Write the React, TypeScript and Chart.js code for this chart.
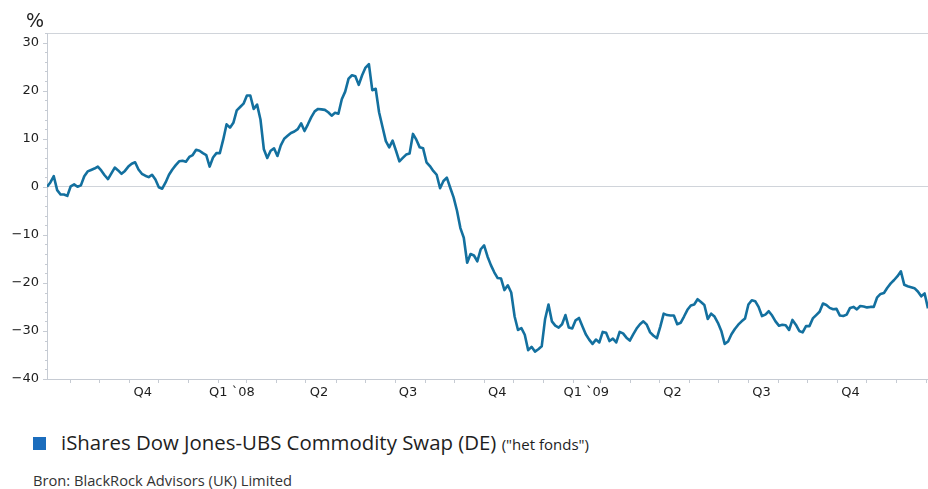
import React, { useEffect, useRef } from 'react';
import { Chart, registerables } from 'chart.js';

Chart.register(...registerables);

// ---- data (half-weekly observations, % change since start) ----
const seriesStart = '2007-08-08';
const stepDays = 3.5;
const fundValues = [
  0.0, 0.9, 2.2, -0.7, -1.6, -1.6, -1.9, 0.1, 0.5, 0.0,
  0.3, 2.2, 3.2, 3.5, 3.8, 4.2, 3.4, 2.4, 1.6, 2.8,
  4.0, 3.4, 2.7, 3.3, 4.2, 4.8, 5.1, 3.6, 2.7, 2.3,
  2.0, 2.5, 1.5, -0.1, -0.4, 0.9, 2.5, 3.6, 4.5, 5.3,
  5.4, 5.2, 6.2, 6.6, 7.7, 7.5, 7.0, 6.6, 4.2, 6.1,
  7.0, 7.0, 9.8, 13.0, 12.3, 13.3, 15.9, 16.6, 17.3, 19.0,
  19.0, 16.2, 17.1, 14.0, 7.8, 6.0, 7.5, 8.0, 6.4, 8.6,
  10.0, 10.6, 11.2, 11.5, 12.0, 13.2, 11.6, 13.0, 14.5, 15.7,
  16.2, 16.1, 16.0, 15.5, 14.8, 15.4, 15.2, 18.2, 19.8, 22.5,
  23.2, 23.0, 21.2, 23.2, 24.8, 25.5, 20.1, 20.4, 15.5, 12.5,
  9.5, 8.2, 9.6, 7.5, 5.3, 6.0, 6.7, 6.9, 11.0, 9.8,
  8.2, 8.0, 5.1, 4.3, 3.3, 2.5, -0.3, 1.2, 1.9, -0.2,
  -2.2, -5.0, -8.6, -10.6, -15.8, -14.0, -14.3, -15.5, -13.0, -12.2,
  -14.5, -16.3, -17.8, -19.0, -19.1, -21.5, -20.5, -22.0, -27.0, -29.8,
  -29.4, -30.8, -34.0, -33.3, -34.3, -33.8, -33.2, -27.5, -24.5, -28.0,
  -28.9, -29.3, -28.6, -26.7, -29.3, -29.5, -27.8, -27.3, -29.0, -30.7,
  -31.8, -32.7, -31.8, -32.4, -30.2, -30.4, -32.1, -31.6, -32.4, -30.2,
  -30.5, -31.4, -32.0, -30.7, -29.5, -28.6, -28.0, -28.7, -30.3, -31.0,
  -31.5, -29.1, -26.4, -26.7, -26.8, -26.8, -28.6, -28.3, -27.0, -25.6,
  -24.7, -24.5, -23.4, -24.0, -24.6, -27.5, -26.4, -27.0, -28.3, -30.0,
  -32.7, -32.2, -30.7, -29.6, -28.7, -28.0, -27.4, -24.5, -23.6, -23.8,
  -25.0, -26.9, -26.6, -25.9, -26.8, -28.0, -28.9, -28.7, -28.8, -29.8,
  -27.7, -28.7, -30.0, -30.3, -29.0, -29.0, -27.4, -26.7, -26.0, -24.3,
  -24.6, -25.2, -25.5, -25.4, -26.8, -26.9, -26.6, -25.2, -25.0, -25.5,
  -24.8, -24.9, -25.1, -25.0, -25.0, -23.0, -22.3, -22.1, -21.0, -20.1,
  -19.4, -18.6, -17.6, -20.4, -20.7, -20.9, -21.1, -21.8, -22.8, -22.2,
  -25.3,
];

const quarterLabels = ['Q4', 'Q1 `08', 'Q2', 'Q3', 'Q4', 'Q1 `09', 'Q2', 'Q3', 'Q4'];
const quarterLabelDates = [
  '2007-11-15', '2008-02-15', '2008-05-15', '2008-08-15', '2008-11-15',
  '2009-02-15', '2009-05-15', '2009-08-15', '2009-11-15',
];
const monthTickDates = [
  '2007-09-01', '2007-10-01', '2007-11-01', '2007-12-01',
  '2008-01-01', '2008-02-01', '2008-03-01', '2008-04-01', '2008-05-01', '2008-06-01',
  '2008-07-01', '2008-08-01', '2008-09-01', '2008-10-01', '2008-11-01', '2008-12-01',
  '2009-01-01', '2009-02-01', '2009-03-01', '2009-04-01', '2009-05-01', '2009-06-01',
  '2009-07-01', '2009-08-01', '2009-09-01', '2009-10-01', '2009-11-01', '2009-12-01',
  '2010-01-01', '2010-02-01',
];
const yMin = -40;
const yMax = 32;
const yMinorStep = 2;
const yLabelStep = 10;

const legendLabel = 'iShares Dow Jones-UBS Commodity Swap (DE)';
const legendNote = '("het fonds")';
const sourceText = 'Bron: BlackRock Advisors (UK) Limited';
const unitText = '%';

// ---- styles ----
const LINE_COLOR = '#13709f';
const LEGEND_BLUE = '#1b6dbd';
const AXIS_COLOR = '#c6cbd3';
const GRID_COLOR = '#d0d4da';
const TEXT_COLOR = '#1e1e1e';
const AXIS_FONT = 'DejaVu Sans';

const EPOCH = Date.parse('2007-08-01T00:00:00Z');
const dayOf = (s: string) => (Date.parse(s + 'T00:00:00Z') - EPOCH) / 86400000;

const fmtY = (v: number) => (v < 0 ? '\u2212' + Math.abs(v) : String(v));

const tickMarks = {
  id: 'tickMarks',
  afterDraw(chart: any) {
    const { ctx, chartArea } = chart;
    const x = chart.scales.x;
    const y = chart.scales.y;
    ctx.save();
    ctx.strokeStyle = AXIS_COLOR;
    ctx.lineWidth = 1;
    monthTickDates.forEach((d) => {
      const px = Math.round(x.getPixelForValue(dayOf(d))) + 0.5;
      if (px < chartArea.left || px > chartArea.right + 1) return;
      ctx.beginPath();
      ctx.moveTo(px, chartArea.bottom);
      ctx.lineTo(px, chartArea.bottom + 4);
      ctx.stroke();
    });
    for (let v = yMin; v <= yMax; v += yMinorStep) {
      const py = Math.round(y.getPixelForValue(v)) + 0.5;
      const len = v % yLabelStep === 0 ? 4 : 2;
      ctx.beginPath();
      ctx.moveTo(chartArea.left - len, py);
      ctx.lineTo(chartArea.left, py);
      ctx.stroke();
    }
    ctx.restore();
  },
};

export default function App() {
  const canvasRef = useRef<HTMLCanvasElement | null>(null);

  useEffect(() => {
    document.body.style.margin = '0';
    const canvas = canvasRef.current;
    if (!canvas) return;
    const start = dayOf(seriesStart);
    const points = fundValues.map((v, i) => ({ x: start + i * stepDays, y: v }));
    const end = start + (fundValues.length - 1) * stepDays;

    const chart = new Chart(canvas, {
      type: 'line',
      data: {
        datasets: [
          {
            data: points,
            borderColor: LINE_COLOR,
            borderWidth: 2.6,
            pointRadius: 0,
            tension: 0,
            fill: false,
            borderJoinStyle: 'round',
          },
        ],
      },
      options: {
        animation: false,
        responsive: false,
        maintainAspectRatio: false,
        layout: { padding: { top: 33, right: 0, left: 0, bottom: 0 } },
        plugins: { legend: { display: false }, tooltip: { enabled: false } },
        scales: {
          x: {
            type: 'linear',
            min: start,
            max: end,
            afterBuildTicks: (s: any) => {
              s.ticks = quarterLabelDates.map((d) => ({ value: dayOf(d) }));
            },
            afterFit: (s: any) => {
              s.height = 31;
            },
            ticks: {
              autoSkip: false,
              maxRotation: 0,
              padding: 6,
              color: TEXT_COLOR,
              font: { family: AXIS_FONT, size: 13 },
              callback: (_v: any, i: number) => quarterLabels[i],
            },
            grid: { drawTicks: false, color: 'rgba(0,0,0,0)' },
            border: { display: true, color: AXIS_COLOR, width: 1 },
          },
          y: {
            min: yMin,
            max: yMax,
            afterBuildTicks: (s: any) => {
              const t = [];
              for (let v = yMin; v <= yMax; v += yMinorStep) t.push({ value: v });
              s.ticks = t;
            },
            afterFit: (s: any) => {
              s.width = 47;
            },
            ticks: {
              autoSkip: false,
              padding: 8,
              color: TEXT_COLOR,
              font: { family: AXIS_FONT, size: 13 },
              callback: (v: any) => (v % yLabelStep === 0 ? fmtY(v) : ''),
            },
            grid: {
              drawTicks: false,
              color: (ctx: any) =>
                ctx.tick && (ctx.tick.value === 0 || ctx.tick.value === yMax)
                  ? GRID_COLOR
                  : 'rgba(0,0,0,0)',
            },
            border: { display: true, color: AXIS_COLOR, width: 1 },
          },
        },
      },
      plugins: [tickMarks],
    });
    return () => chart.destroy();
  }, []);

  return (
    <div style={{ position: 'relative', width: 928, height: 489, background: '#fff', overflow: 'hidden' }}>
      <canvas ref={canvasRef} width={928} height={410} style={{ position: 'absolute', left: 0, top: 0 }} />
      <div
        style={{
          position: 'absolute', left: 26, top: 9, fontFamily: AXIS_FONT, fontSize: 19,
          color: TEXT_COLOR, lineHeight: '22px',
        }}
      >
        {unitText}
      </div>
      <div style={{ position: 'absolute', left: 33, top: 437, width: 13, height: 13, background: LEGEND_BLUE }} />
      <div
        style={{
          position: 'absolute', left: 61, top: 429, whiteSpace: 'nowrap', color: TEXT_COLOR,
          fontFamily: '"Open Sans", "Noto Sans", sans-serif', fontSize: 20.4, lineHeight: '26px',
        }}
      >
        {legendLabel}{' '}
        <span style={{ fontFamily: '"Liberation Sans Narrow", "Open Sans", sans-serif', fontSize: 15 }}>{legendNote}</span>
      </div>
      <div
        style={{
          position: 'absolute', left: 33, top: 470, whiteSpace: 'nowrap', color: '#333',
          fontFamily: '"Open Sans", "Noto Sans", sans-serif', fontSize: 14.7, lineHeight: '20px',
        }}
      >
        {sourceText}
      </div>
    </div>
  );
}
